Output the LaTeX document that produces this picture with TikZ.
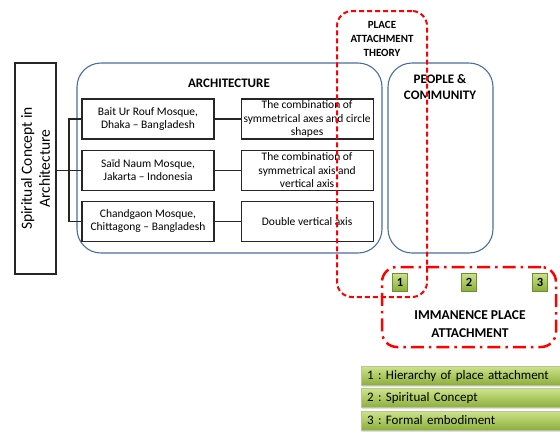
\documentclass[tikz,border=0pt]{standalone}
\usepackage{fontspec}
\setmainfont{Carlito}
\usepackage{tikz}
\usetikzlibrary{shapes,arrows,positioning,calc,shadows}
\frenchspacing
\definecolor{frameblue}{HTML}{4A6E9E}
\definecolor{keytop}{HTML}{CDE38A}
\definecolor{keybottom}{HTML}{8CAE3C}
\definecolor{keyline}{HTML}{6F8D32}
\tikzstyle{group} = [rectangle, rounded corners=24pt, draw=frameblue, line width=1.1pt]
\tikzstyle{class} = [rectangle, minimum width=132pt, minimum height=40pt, inner sep=0pt, align=center, draw=black!85, line width=1.1pt, font=\fontsize{11.5}{13.3}\selectfont]
\tikzstyle{title} = [align=center, font=\bfseries\fontsize{13}{16}\selectfont]
\tikzstyle{theory} = [rectangle, rounded corners=15pt, draw=red, line width=2pt, dash pattern=on 5pt off 3pt]
\tikzstyle{immanence} = [rectangle, rounded corners=15pt, draw=red, line width=2.5pt, dash pattern=on 13pt off 5pt on 2.5pt off 5pt]
\tikzstyle{num} = [rectangle, minimum width=15pt, minimum height=18pt, inner sep=0pt, draw=keyline, top color=keytop, bottom color=keybottom, font=\bfseries\fontsize{12.5}{12.5}\selectfont]
\tikzstyle{key} = [rectangle, minimum width=202pt, minimum height=19pt, text width=190pt, align=left, anchor=north west, top color=keytop, bottom color=keybottom, draw=keyline!50, drop shadow={opacity=0.25, shadow xshift=1pt, shadow yshift=-1.5pt}, font=\fontsize{13}{15}\selectfont]
\tikzstyle{link} = [line width=1.1pt, draw=black!85]

\begin{document}
\begin{tikzpicture}[x=1pt, y=-1pt, node distance=10pt]
	\useasboundingbox (0,0) rectangle (560,432);
	% groups
	\node (Architecture) [group, minimum width=305pt, minimum height=190pt] at (229.5,158) {};
	\node (People) [group, minimum width=105pt, minimum height=190pt] at (440.5,158) {};
	\node (ArchTitle) [title, anchor=north] at (229,75) {ARCHITECTURE};
	\node (PeopleTitle) [title, anchor=north] at (440,71) {PEOPLE \&\\COMMUNITY};

	\node (Spiritual) [rectangle, rotate=90, minimum width=211pt, minimum height=41pt, draw=black!85, line width=1.1pt, align=center, font=\fontsize{15.5}{18}\selectfont] at (35.5,168.5) {Spiritual Concept in\\Architecture};

	\node (Bait) [class] at (148,119) {Bait Ur Rouf Mosque,\\Dhaka -- Bangladesh};
	\node (Said) [class, below = of Bait] {Saïd Naum Mosque,\\Jakarta -- Indonesia};
	\node (Chandgaon) [class, below = of Said] {Chandgaon Mosque,\\Chittagong -- Bangladesh};
	\node (BaitForm) [class, right = 26pt of Bait] {The combination of\\symmetrical axes and circle\\shapes};
	\node (SaidForm) [class, right = 26pt of Said] {The combination of\\symmetrical axis and\\vertical axis};
	\node (ChandgaonForm) [class, right = 26pt of Chandgaon] {Double vertical axis};

	\coordinate (Fork) at ($(Spiritual.south)!0.5!(Said.west)$);
	\draw[link] (Said.west) -- (Said.west -| Spiritual.south);
	\draw[link] (Bait.west) -| (Fork) |- (Chandgaon.west);
	\draw[link] (Bait) -- (BaitForm);
	\draw[link] (Said) -- (SaidForm);
	\draw[link] (Chandgaon) -- (ChandgaonForm);

	% place attachment
	\node (Theory) [theory, minimum width=90pt, minimum height=286pt] at (382,154) {};
	\node (TheoryTitle) [anchor=north, align=center, font=\bfseries\fontsize{11}{14}\selectfont] at (382,18) {PLACE\\ATTACHMENT\\THEORY};
	\node (Immanence) [immanence, minimum width=174pt, minimum height=80pt] at (469,307) {};
	\node (ImmanenceTitle) [title, font=\bfseries\fontsize{13.5}{18}\selectfont] at (470,324) {IMMANENCE PLACE\\ATTACHMENT};
	\node (One) [num] at (400,282) {1};
	\node (Two) [num] at (469,282) {2};
	\node (Three) [num] at (540,282) {3};

	% key
	\node (KeyOne) [key] at (361,366) {1 : Hierarchy of place attachment};
	\node (KeyTwo) [key, below = 3pt of KeyOne.south west, anchor=north west] {2 : Spiritual Concept};
	\node (KeyThree) [key, below = 3pt of KeyTwo.south west, anchor=north west] {3 : Formal embodiment};
\end{tikzpicture}
\end{document}
